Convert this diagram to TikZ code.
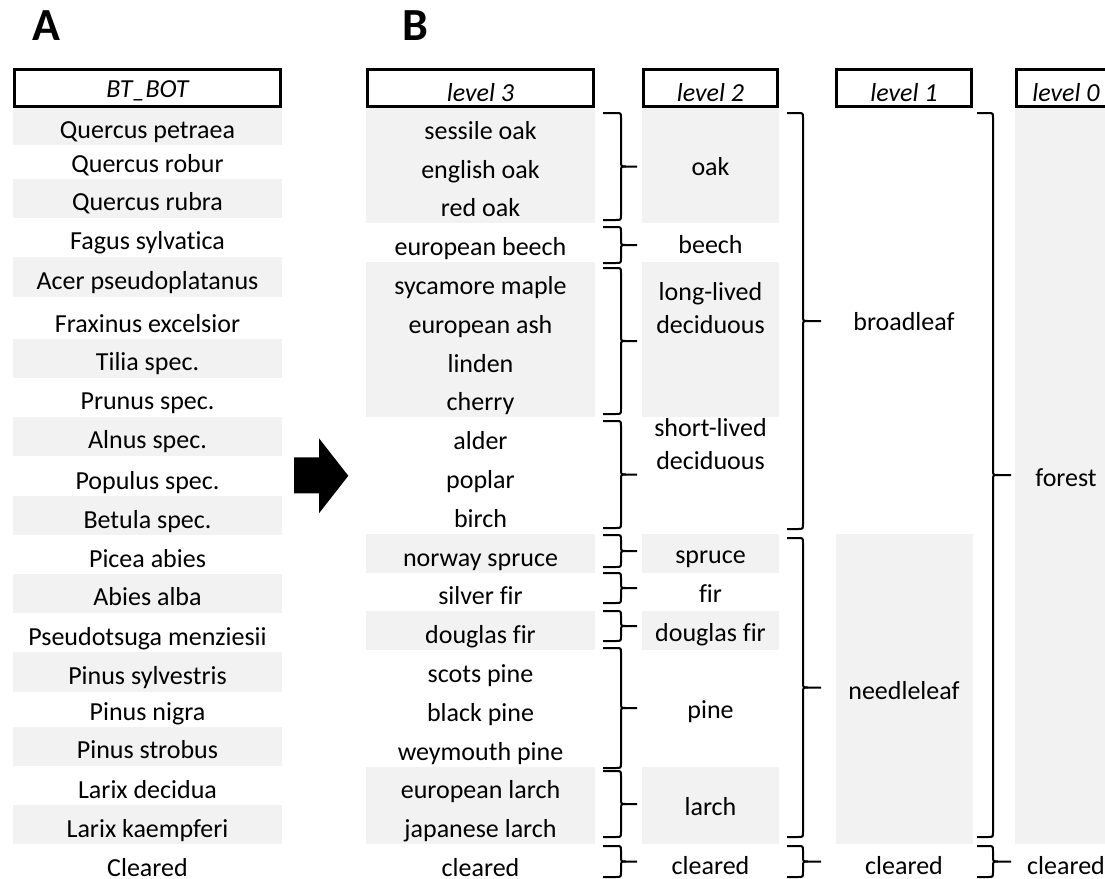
\documentclass[tikz,border=0pt]{standalone}
\usepackage{fontspec}
\setmainfont{Carlito}[Ligatures=NoCommon]
\definecolor{cellgray}{RGB}{242,242,242}
% brace: x0 (open ends), xv (vertical), xt (tip), ya (top), yb (bottom)
\newcommand{\brc}[5]{%
  \pgfmathsetmacro\bm{(#4+#5)/2}%
  \draw[bracel] (#1,#4) -- ({#2-5},#4) .. controls (#2,#4) .. (#2,{#4+5}) -- (#2,{\bm-5}) .. controls (#2,\bm) .. ({#2+5},\bm) -- (#3,\bm);
  \draw[bracel] ({#2+5},\bm) .. controls (#2,\bm) .. (#2,{\bm+5}) -- (#2,{#5-5}) .. controls (#2,#5) .. ({#2-5},#5) -- (#1,#5);
}
\begin{document}
\begin{tikzpicture}[x=1pt,y=-1pt,
  txt/.style={anchor=base, inner sep=0pt, font=\fontsize{26}{33}\selectfont, align=center},
  hdrtxt/.style={anchor=base, inner sep=0pt, font=\fontsize{26}{33}\selectfont\itshape},
  hdr/.style={draw=black, line width=3pt, fill=white},
  bracel/.style={line width=2pt, line join=round},
  cell/.style={fill=cellgray},
  title/.style={anchor=base, inner sep=0pt, font=\fontsize{46}{46}\selectfont\bfseries}]
\useasboundingbox (0,0) rectangle (1105,878);
\clip (0,0) rectangle (1105,878);

% titles
\node[title] (tA) at (46.5,40) {A};
\node[title] (tB) at (415,40) {B};

% column A
\foreach \t/\e [count=\i, remember=\e as \s (initially 106)] in {Quercus petraea/145, Quercus robur/179, Quercus rubra/217.7, Fagus sylvatica/256.7, Acer pseudoplatanus/296.7, Fraxinus excelsior/339, Tilia spec./377.7, Prunus spec./416.7, Alnus spec./455.7, Populus spec./496, Betula spec./535, Picea abies/574, Abies alba/612.7, Pseudotsuga menziesii/652.3, Pinus sylvestris/691.7, Pinus nigra/727, Pinus strobus/765.7, Larix decidua/805, Larix kaempferi/844, Cleared/883}{
  \ifodd\i\relax \fill[cell] (13,\s) rectangle (282,\e); \fi
  \node[txt] (bt\i) at (147.5,{\e-7}) {\t};
}

% shading in B
\foreach \a/\b in {1/3,5/8,12/12,14/14,18/19}{
  \fill[cell] (366,{107+(\a-1)*38.8}) rectangle (595,{107+\b*38.8});
  \fill[cell] (642,{107+(\a-1)*38.8}) rectangle (779,{107+\b*38.8});
}
\fill[cell] (836,533.8) rectangle (973,844.2);
\fill[cell] (1015,107) rectangle (1125,844.2);

% header boxes
\draw[hdr] (14.5,69.5) rectangle (280.5,106.5);
\draw[hdr] (367.5,69.5) rectangle (593.5,106.5);
\draw[hdr] (643.5,69.5) rectangle (777.5,106.5);
\draw[hdr] (836.5,69.5) rectangle (971.5,106.5);
\draw[hdr] (1016.5,69.5) rectangle (1130,106.5);
\node[hdrtxt] (hA) at (147.5,97) {BT\_BOT};
\node[hdrtxt] (h3) at (480.5,101) {level 3};
\node[hdrtxt] (h2) at (710.5,101) {level 2};
\node[hdrtxt] (h1) at (904,101) {level 1};
\node[hdrtxt] (h0) at (1066,101) {level 0};

% level 3
\foreach \t [count=\i] in {sessile oak, english oak, red oak, european beech, sycamore maple, european ash, linden, cherry, alder, poplar, birch, norway spruce, silver fir, douglas fir, scots pine, black pine, weymouth pine, european larch, japanese larch, cleared}{
  \node[txt] (l3n\i) at (480.5,{107+\i*38.8-6.5}) {\t};
}

% level 2
\node[txt] (oak) at (710.5,175.7) {oak};
\node[txt] (beech) at (710.5,253.3) {beech};
\node[txt] (lld) at (710.5,333.8) {long-lived\\deciduous};
\node[txt] (sld) at (710.5,469.6) {short-lived\\deciduous};
\node[txt] (spruce) at (710.5,563.7) {spruce};
\node[txt] (fir) at (710.5,602.5) {fir};
\node[txt] (dfir) at (710.5,641.3) {douglas fir};
\node[txt] (pine) at (710.5,718.9) {pine};
\node[txt] (larch) at (710.5,815.9) {larch};
\node[txt] (clr2) at (710.5,874.1) {cleared};

% level 1
\node[txt] (broad) at (904,330.9) {broadleaf};
\node[txt] (needle) at (904,699.5) {needleleaf};
\node[txt] (clr1) at (904,874.1) {cleared};

% level 0
\node[txt] (forest) at (1066,486.1) {forest};
\node[txt] (clr0) at (1066,874.1) {cleared};

% braces level 3 -> level 2
\brc{603}{621}{637}{113}{220}
\brc{603}{621}{637}{227}{263}
\brc{603}{621}{637}{268}{414}
\brc{603}{621}{637}{421}{528}
\brc{603}{621}{637}{535}{567}
\brc{603}{621}{637}{573}{603}
\brc{603}{621}{637}{611}{641}
\brc{603}{621}{637}{648}{768}
\brc{603}{621}{637}{771}{837}
\brc{603}{621}{637}{846}{877}
% braces level 2 -> level 1
\brc{787}{803}{821}{113}{529}
\brc{787}{803}{821}{538}{837}
\brc{787}{803}{821}{846}{877}
% braces level 1 -> level 0
\brc{977}{993}{1011}{113}{837}
\brc{977}{993}{1011}{846}{877}

% arrow
\fill (294,457.3) -- (319,457.3) -- (319,438.3) -- (348.3,475.8) -- (319,513.3) -- (319,493.3) -- (294,493.3) -- cycle;
\end{tikzpicture}
\end{document}
